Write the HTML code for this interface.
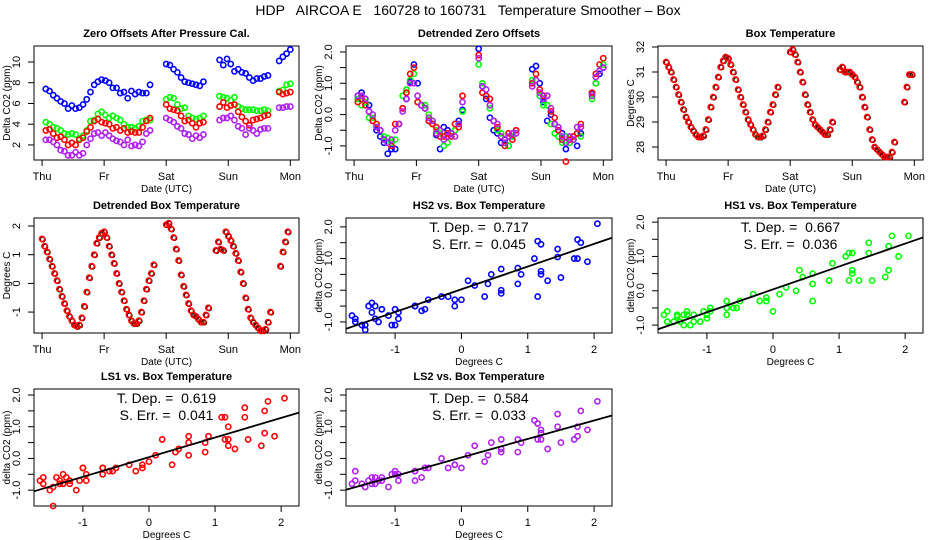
<!DOCTYPE html>
<html><head><meta charset="utf-8">
<style>
html,body{margin:0;padding:0;background:#fff;}
svg{display:block;font-family:"Liberation Sans",sans-serif;}
</style></head>
<body>
<svg id="chart" width="936" height="540" viewBox="0 0 936 540" xmlns="http://www.w3.org/2000/svg">
<rect width="936" height="540" fill="#fff"/>
<text x="468" y="15" text-anchor="middle" font-size="14" fill="#000" style="white-space:pre" xml:space="preserve">HDP   AIRCOA E   160728 to 160731   Temperature Smoother – Box</text>
</svg>
<script>
// ---- data ----
const offT = [0.06,0.12,0.18,0.24,0.30,0.36,0.42,0.48,0.54,0.60,0.66,0.72,0.78,0.84,0.90,0.96,1.02,1.08,1.14,1.20,1.26,1.32,1.38,1.44,1.50,1.56,1.62,1.68,1.74,
 2.0,2.06,2.12,2.18,2.24,2.30,2.36,2.42,2.48,2.54,2.60,
 2.86,2.92,2.98,3.04,3.10,3.16,3.22,3.28,3.34,3.40,3.46,3.52,3.58,3.64,
 3.82,3.88,3.94,4.0];
const blueOff = [7.4,7.2,6.8,6.5,6.2,6.0,5.5,5.8,5.5,5.6,5.9,6.4,7.1,7.8,8.1,8.3,8.2,8.0,7.5,7.5,7.0,7.1,6.5,7.2,6.9,7.1,7.0,7.0,7.8,
 9.8,9.7,9.3,9.0,8.5,8.1,8.0,7.9,7.8,7.7,8.1,
 10.2,9.7,10.3,9.8,9.1,9.3,9.0,8.9,8.5,8.2,8.4,8.4,8.6,8.7,
 10.1,10.5,10.8,11.2];
const greenOff = [4.2,4.0,3.7,3.6,3.4,3.1,3.0,3.1,3.0,2.6,2.9,3.4,4.3,4.4,5.0,5.2,4.9,4.6,4.8,4.6,4.4,4.0,3.7,3.7,3.6,3.8,4.3,4.4,4.4,
 6.4,6.6,6.5,5.9,5.5,5.6,4.8,4.6,4.5,4.6,4.8,
 6.7,6.6,6.5,6.3,6.6,5.7,5.5,5.4,5.4,5.4,5.3,5.3,5.4,5.3,
 7.2,7.3,7.8,7.9];
const redOff = [3.4,3.5,3.1,2.7,2.8,2.5,2.0,2.2,2.0,2.5,2.7,3.3,3.7,4.3,4.5,4.2,4.1,4.0,3.6,3.7,3.4,3.6,3.2,3.3,3.2,3.2,3.7,4.3,4.6,
 5.9,5.5,5.4,5.3,4.8,4.3,4.4,4.1,3.7,4.1,4.2,
 5.7,6.1,5.6,5.8,5.9,5.2,4.7,4.3,3.9,4.4,4.5,4.6,4.8,4.9,
 7.1,6.9,7.0,7.1];
const purpleOff = [2.5,2.5,2.3,2.0,1.5,1.4,1.0,1.0,1.3,1.0,1.2,2.0,2.6,3.1,3.2,2.9,3.2,2.9,2.6,2.4,2.3,2.0,2.5,1.9,2.0,1.9,2.3,3.1,3.4,
 4.6,4.4,4.2,3.8,3.6,3.1,3.0,2.6,2.9,2.7,3.0,
 4.4,4.6,4.6,4.8,4.4,3.8,3.6,3.0,3.6,3.4,3.1,3.5,3.6,3.6,
 5.6,5.6,5.7,5.7];
const blueDet = [0.6,0.7,0.5,0.3,-0.2,-0.5,-0.7,-0.9,-1.25,-1.1,-1.1,-0.3,0.2,0.5,1.05,1.6,1.0,0.3,0.2,-0.2,-0.3,-0.65,-1.1,-0.4,-0.5,-0.6,-0.5,-0.2,0.15,
 2.1,0.9,0.5,-0.1,-0.5,-0.6,-0.9,-0.8,-1.0,-0.7,-0.5,
 1.45,1.55,1.0,0.4,-0.2,0.0,-0.3,-0.5,-0.6,-1.1,-0.9,-0.8,-1.0,-0.6,
 0.67,1.0,1.3,1.5];
const greenDet = [0.5,0.3,0.4,-0.1,-0.1,-0.3,-0.5,-0.7,-0.75,-0.9,-0.8,-0.3,0.6,0.8,1.1,1.3,0.4,0.3,0.3,0.0,-0.3,-0.5,-0.6,-1.0,-0.9,-0.7,-0.5,-0.3,0.1,
 1.6,1.0,0.6,0.2,-0.2,-0.5,-0.6,-0.9,-1.0,-0.7,-0.6,
 1.1,1.1,0.6,0.3,0.3,-0.3,-0.6,-0.7,-0.9,-0.7,-0.9,-0.7,-0.6,-0.7,
 0.5,1.0,1.4,1.6];
const redDet = [0.4,0.5,0.3,0.1,-0.2,-0.3,-0.5,-0.8,-0.9,-1.0,-0.3,-0.3,0.2,0.7,1.3,1.5,0.4,0.3,0.2,-0.2,-0.3,-0.4,-0.7,-0.7,-0.6,-0.7,-0.3,-0.4,0.6,
 1.9,0.7,0.6,0.5,-0.2,-0.4,-0.7,-1.0,-0.6,-0.8,-0.5,
 1.0,1.3,0.8,0.6,0.6,0.1,-0.1,-0.5,-0.8,-1.5,-0.8,-0.7,-0.6,-0.3,
 0.7,1.3,1.6,1.8];
const purpleDet = [0.6,0.6,0.5,0.1,0.0,-0.4,-0.5,-0.8,-0.9,-0.8,-0.5,-0.3,0.1,0.5,1.0,1.0,0.6,0.3,0.2,-0.1,-0.2,-0.6,-0.5,-0.8,-0.7,-0.6,-0.7,-0.3,0.4,
 1.8,0.9,0.8,0.3,-0.2,-0.3,-0.7,-0.9,-0.7,-0.6,-0.6,
 0.9,1.1,0.7,0.5,0.6,0.2,-0.3,-0.4,-0.7,-0.9,-0.7,-0.8,-0.4,-0.4,
 0.6,1.2,1.4,1.5];
const scatterX = [1.2,0.85,0.45,0.1,-0.3,-0.7,-0.95,-1.3,-1.45,-1.5,-1.0,-0.5,0.4,0.9,1.45,1.75,1.7,1.3,0.85,0.35,-0.1,-0.6,-1.05,-1.35,-1.4,-1.2,-0.7,-0.2,0.2,
 2.05,1.9,1.2,0.6,-0.1,-0.55,-0.95,-1.1,-1.25,-1.35,-1.3,
 1.2,1.15,1.75,1.5,1.15,0.6,0.0,-0.7,-1.2,-1.45,-1.6,-1.65,-1.6,-1.0,
 0.6,1.1,1.45,1.8];
const boxT = [0,0.04,0.08,0.12,0.16,0.2,0.24,0.28,0.32,0.36,0.4,0.44,0.48,0.52,0.56,0.6,0.64,0.68,0.72,0.76,0.8,0.84,0.88,0.92,0.96,1.0,1.04,1.08,1.12,1.16,1.2,1.24,1.28,1.32,1.36,1.4,1.44,1.48,1.52,1.56,1.6,1.64,1.68,1.72,1.76,1.8,
 2.0,2.04,2.08,2.12,2.16,2.2,2.24,2.28,2.32,2.36,2.4,2.44,2.48,2.52,2.56,2.6,2.64,2.68,
 2.8,2.84,2.88,2.92,2.96,3.0,3.04,3.08,3.12,3.16,3.2,3.24,3.28,3.32,3.36,3.4,3.44,3.48,3.52,3.56,3.6,3.64,3.68,
 3.84,3.88,3.92,3.96];
const boxTemp = [31.4,31.2,31.0,30.7,30.4,30.1,29.8,29.5,29.2,29.0,28.8,28.65,28.5,28.4,28.4,28.45,28.7,29.1,29.6,30.0,30.4,30.8,31.2,31.45,31.6,31.55,31.3,31.0,30.7,30.3,30.0,29.7,29.4,29.1,28.9,28.7,28.5,28.4,28.4,28.45,28.7,29.0,29.4,29.7,30.1,30.4,
 31.8,31.9,31.7,31.4,31.0,30.6,30.1,29.7,29.4,29.1,28.9,28.8,28.7,28.6,28.5,28.5,28.7,29.0,
 31.1,31.2,31.0,31.0,31.0,30.9,30.8,30.6,30.4,30.0,29.6,29.2,28.7,28.3,28.0,27.9,27.8,27.7,27.6,27.6,27.6,27.8,28.2,
 29.8,30.4,30.9,30.9];
const boxDet = [1.55,1.3,1.1,0.85,0.6,0.35,0.1,-0.2,-0.45,-0.7,-0.95,-1.15,-1.3,-1.45,-1.5,-1.45,-1.2,-0.8,-0.3,0.2,0.6,1.0,1.4,1.6,1.75,1.8,1.6,1.3,1.0,0.7,0.35,0.0,-0.3,-0.6,-0.9,-1.1,-1.3,-1.4,-1.4,-1.3,-1.0,-0.6,-0.2,0.1,0.35,0.65,
 2.05,2.1,1.9,1.6,1.2,0.8,0.3,-0.1,-0.4,-0.7,-0.95,-1.1,-1.15,-1.25,-1.35,-1.35,-1.1,-0.85,
 1.15,1.45,1.2,1.15,1.8,1.65,1.5,1.3,1.05,0.8,0.4,0.0,-0.5,-0.9,-1.2,-1.35,-1.45,-1.55,-1.65,-1.65,-1.6,-1.35,-1.0,
 0.6,1.1,1.45,1.8];
const dayLabels = ['Thu','Fr','Sat','Sun','Mon'];
const sensorNames = ['HS2','HS1','LS1','LS2'];
const slopes = [0.717,0.667,0.619,0.584];
const stdErrs = ['0.045','0.036','0.041','0.033'];
const intercepts = [0.03,0.04,0.04,0.03];

// ---- drawing ----
const NS = 'http://www.w3.org/2000/svg';
const svg = document.getElementById('chart');
function mk(tag, parent, attrs){
  const e = document.createElementNS(NS, tag);
  for (const k in attrs) e.setAttribute(k, attrs[k]);
  parent.appendChild(e);
  return e;
}
function panel(cfg){
  const g = mk('g', svg, {});
  
  
  const sx = v => cfg.x0 + (v - cfg.xd[0]) / (cfg.xd[1] - cfg.xd[0]) * (cfg.x1 - cfg.x0);
  const sy = v => cfg.y1 - (v - cfg.yd[0]) / (cfg.yd[1] - cfg.yd[0]) * (cfg.y1 - cfg.y0);
  const t = mk('text', g, {x:(cfg.x0+cfg.x1)/2, y:cfg.y0-9, 'text-anchor':'middle', 'font-size':11, 'font-weight':'bold'});
  t.textContent = cfg.title;
  
  
  // x axis
  const xa = mk('g', g, {});
  
  
  const xt = cfg.xticks;
  xt.forEach((v,i)=>{
    const x = sx(v);
    mk('line', xa, {x1:x, x2:x, y1:cfg.y1, y2:cfg.y1+6, stroke:'#000', 'stroke-width':1});
    if (cfg.xlabels[i] !== null) {
      const l = mk('text', xa, {x:x, y:cfg.y1+20, 'text-anchor':'middle', 'font-size':11});
      l.textContent = cfg.xlabels[i];
      
      
    }
  });
  const xl = mk('text', xa, {x:(cfg.x0+cfg.x1)/2, y:cfg.y1+32, 'text-anchor':'middle', 'font-size':10});
  xl.textContent = cfg.xtitle;
  
  
  // y axis
  const ya = mk('g', g, {});
  
  
  const yt = cfg.yticks;
  yt.forEach((v,i)=>{
    const y = sy(v);
    mk('line', ya, {x1:cfg.x0-6, x2:cfg.x0, y1:y, y2:y, stroke:'#000', 'stroke-width':1});
    if (cfg.ylabels[i] !== null) {
      const l = mk('text', ya, {x:0, y:0, 'text-anchor':'middle', 'font-size':11, transform:`translate(${cfg.x0-14},${y}) rotate(-90)`});
      l.textContent = cfg.ylabels[i];
      
      
    }
  });
  const yl = mk('text', ya, {x:0, y:0, 'text-anchor':'middle', 'font-size':10, transform:`translate(${cfg.x0-24},${(cfg.y0+cfg.y1)/2}) rotate(-90)`});
  yl.textContent = cfg.ytitle;
  
  
  // frame
  const fr = mk('rect', g, {x:cfg.x0, y:cfg.y0, width:cfg.x1-cfg.x0, height:cfg.y1-cfg.y0, fill:'none', stroke:'#000', 'stroke-width':1});
  
  
  return {g, sx, sy};
}
function points(p, xs, ys, color, name, dark){
  const sg = mk('g', p.g, {});
  
  
  xs.forEach((xv,i)=>{
    const cx = p.sx(xv), cy = p.sy(ys[i]);
    if (dark) mk('circle', sg, {cx:cx+0.8, cy:cy+0.6, r:2.4, fill:'none', stroke:'#000', 'stroke-width':1.1});
    const c = mk('circle', sg, {cx:cx, cy:cy, r:2.6, fill:'none', stroke:color, 'stroke-width':1.6});
    
    
  });
}
const dayTicks = [0,1,2,3,4];
const tsX = [-0.13, 4.14];
const colL = [34,299], colM = [346,612], colR = [658,923];
const row1 = [46,160], row2 = [218,333], row3 = [389,506];

// Panel 1
const p1 = panel({name:'zero-offsets-panel', title:'Zero Offsets After Pressure Cal.', x0:colL[0], x1:colL[1], y0:row1[0], y1:row1[1],
  xd:tsX, yd:[0.55,11.54], xticks:dayTicks, xlabels:dayLabels, yticks:[2,4,6,8,10], ylabels:['2','4','6','8','10'],
  xtitle:'Date (UTC)', ytitle:'Delta CO2 (ppm)'});
points(p1, offT, blueOff, '#0000ff', 'hs2-series');
points(p1, offT, greenOff, '#00ff00', 'hs1-series');
points(p1, offT, redOff, '#ff0000', 'ls1-series');
points(p1, offT, purpleOff, '#b020f0', 'ls2-series');

// Panel 2
const detTicks = [-1,-0.5,0,0.5,1,1.5,2];
const detLabels = ['-1.0',null,'0.0',null,'1.0',null,'2.0'];
const p2 = panel({name:'detrended-offsets-panel', title:'Detrended Zero Offsets', x0:colM[0], x1:colM[1], y0:row1[0], y1:row1[1],
  xd:tsX, yd:[-1.45,2.19], xticks:dayTicks, xlabels:dayLabels, yticks:detTicks, ylabels:detLabels,
  xtitle:'Date (UTC)', ytitle:'Delta CO2 (ppm)'});
points(p2, offT, blueDet, '#0000ff', 'hs2-detrended');
points(p2, offT, greenDet, '#00ff00', 'hs1-detrended');
points(p2, offT, redDet, '#ff0000', 'ls1-detrended');
points(p2, offT, purpleDet, '#b020f0', 'ls2-detrended');

// Panel 3
const p3 = panel({name:'box-temperature-panel', title:'Box Temperature', x0:colR[0], x1:colR[1], y0:row1[0], y1:row1[1],
  xd:tsX, yd:[27.48,32.04], xticks:dayTicks, xlabels:dayLabels, yticks:[28,29,30,31,32], ylabels:['28','29','30','31','32'],
  xtitle:'Date (UTC)', ytitle:'Degrees C'});
points(p3, boxT, boxTemp, '#ff0000', 'box-temperature-series', true);

// Panel 4
const p4 = panel({name:'detrended-box-temperature-panel', title:'Detrended Box Temperature', x0:colL[0], x1:colL[1], y0:row2[0], y1:row2[1],
  xd:tsX, yd:[-1.73,2.28], xticks:dayTicks, xlabels:dayLabels, yticks:[-1,0,1,2], ylabels:['-1','0','1','2'],
  xtitle:'Date (UTC)', ytitle:'Degrees C'});
points(p4, boxT, boxDet, '#ff0000', 'detrended-box-temperature-series', true);

// Scatter panels
const scatterDefs = [
  {ys:blueDet, color:'#0000ff', col:colM, row:row2, yd:[-1.35,2.28]},
  {ys:greenDet, color:'#00ff00', col:colR, row:row2, yd:[-1.23,2.12]},
  {ys:redDet, color:'#ff0000', col:colL, row:row3, yd:[-1.5,2.19]},
  {ys:purpleDet, color:'#b020f0', col:colM, row:row3, yd:[-1.5,2.19]}
];
const scX = [-1.74, 2.27];
scatterDefs.forEach((d,k)=>{
  const nm = sensorNames[k].toLowerCase();
  const p = panel({name:nm+'-scatter-panel', title:sensorNames[k]+' vs. Box Temperature', x0:d.col[0], x1:d.col[1], y0:d.row[0], y1:d.row[1],
    xd:scX, yd:d.yd, xticks:[-1,0,1,2], xlabels:['-1','0','1','2'], yticks:detTicks, ylabels:detLabels,
    xtitle:'Degrees C', ytitle:'delta CO2 (ppm)'});
  points(p, scatterX, d.ys, d.color, nm+'-scatter-points');
  const ln = mk('line', p.g, {x1:p.sx(scX[0]), y1:p.sy(intercepts[k]+slopes[k]*scX[0]), x2:p.sx(scX[1]), y2:p.sy(intercepts[k]+slopes[k]*scX[1]), stroke:'#000', 'stroke-width':1.8});
  
  
  const cx = (d.col[0]+d.col[1])/2;
  const t1 = mk('text', p.g, {x:cx, y:d.row[0]+14, 'text-anchor':'middle', 'font-size':14, 'xml:space':'preserve', style:'white-space:pre'});
  t1.textContent = 'T. Dep. =  ' + slopes[k].toFixed(3);
  
  
  const t2 = mk('text', p.g, {x:cx, y:d.row[0]+31, 'text-anchor':'middle', 'font-size':14, style:'white-space:pre'});
  t2.textContent = 'S. Err. =  ' + stdErrs[k];
  
  
});
</script>
</body></html>
